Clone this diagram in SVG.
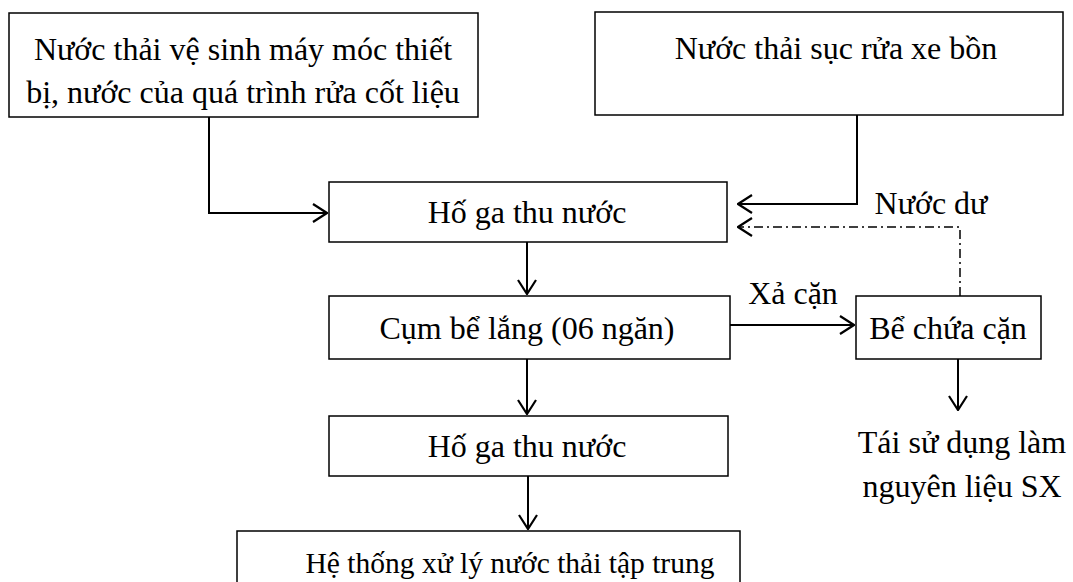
<svg xmlns="http://www.w3.org/2000/svg" width="1073" height="582" viewBox="0 0 1073 582">
<style>
.box{fill:#fff;stroke:#000;stroke-width:1.5}
.t{font-family:"Liberation Serif","Times New Roman",serif;font-size:32px;fill:#000;text-anchor:middle}
.c{fill:none;stroke:#000;stroke-width:2}
.dd{fill:none;stroke:#000;stroke-width:1.5;stroke-dasharray:9 4 2 4}
</style>
<defs>
<marker id="ah" viewBox="0 0 16 20" refX="15" refY="10" markerWidth="16" markerHeight="20" markerUnits="userSpaceOnUse" orient="auto">
<path d="M1,1 L15,10 L1,19" fill="none" stroke="#000" stroke-width="2.2"/>
</marker>
</defs>
<rect width="1073" height="582" fill="#fff"/>
<g id="n1"><rect class="box" x="9" y="13" width="469" height="104"/>
<text class="t" x="243" y="60">Nước thải vệ sinh máy móc thiết</text>
<text class="t" x="243" y="103">bị, nước của quá trình rửa cốt liệu</text></g>
<g id="n2"><rect class="box" x="595" y="12" width="468" height="103"/>
<text class="t" x="836" y="59">Nước thải sục rửa xe bồn</text></g>
<g id="n3"><rect class="box" x="329" y="182" width="398" height="60"/>
<text class="t" x="527" y="223">Hố ga thu nước</text></g>
<g id="n4"><rect class="box" x="329" y="296" width="401" height="63"/>
<text class="t" x="527" y="339">Cụm bể lắng (06 ngăn)</text></g>
<g id="n5"><rect class="box" x="856" y="296" width="185" height="63"/>
<text class="t" x="948" y="339">Bể chứa cặn</text></g>
<g id="n6"><rect class="box" x="329" y="416" width="399" height="60"/>
<text class="t" x="527" y="457">Hố ga thu nước</text></g>
<g id="n7"><rect class="box" x="237" y="531" width="503" height="60"/>
<text class="t" x="510" y="573" style="font-size:29.5px">Hệ thống xử lý nước thải tập trung</text></g>
<g id="n8"><text class="t" x="962" y="453">Tái sử dụng làm</text>
<text class="t" x="962" y="497">nguyên liệu SX</text></g>
<g id="connectors">
<path class="c" d="M209,117 V213 H327" marker-end="url(#ah)"/>
<path class="c" d="M857,115 V204 H738" marker-end="url(#ah)"/>
<path class="dd" d="M960,296 V227 H738" marker-end="url(#ah)"/>
<path class="c" d="M730,325 H854" marker-end="url(#ah)"/>
<path class="c" d="M527,242 V294" marker-end="url(#ah)"/>
<path class="c" d="M527,359 V414" marker-end="url(#ah)"/>
<path class="c" d="M528,476 V529" marker-end="url(#ah)"/>
<path class="c" d="M958,359 V410" marker-end="url(#ah)"/>
<text class="t" x="793" y="304">Xả cặn</text>
<text class="t" x="931" y="214">Nước dư</text>
</g>
</svg>
